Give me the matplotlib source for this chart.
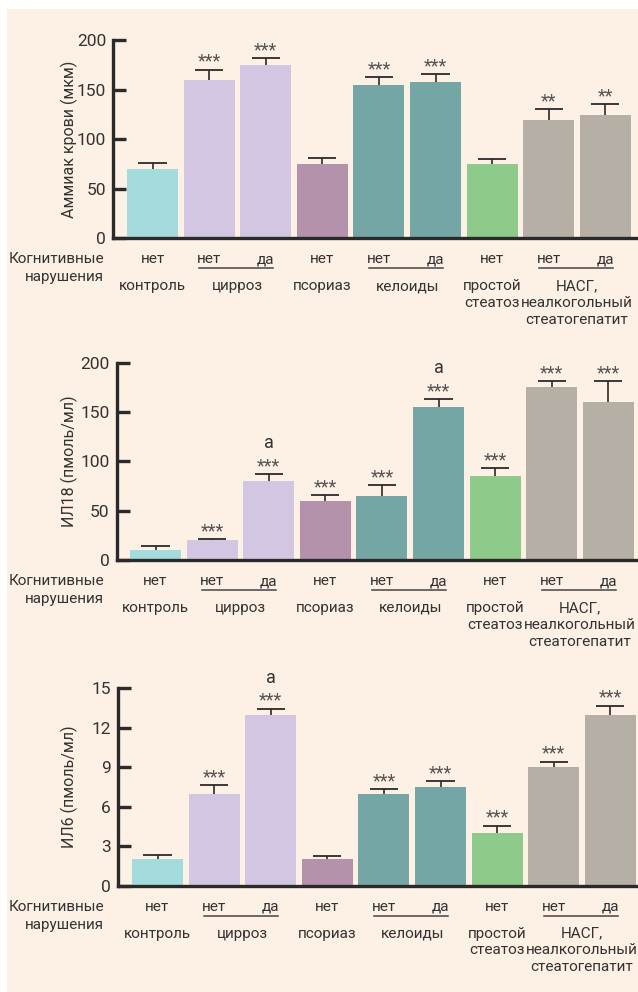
import matplotlib
matplotlib.use("Agg")
import matplotlib.pyplot as plt
from matplotlib.patches import Rectangle
from matplotlib.transforms import blended_transform_factory, ScaledTranslation

plt.rcParams['font.family'] = ['Roboto', 'DejaVu Sans']

# ---- data -------------------------------------------------------------
groups = ["контроль", "цирроз", "псориаз", "келоиды",
          "простой\nстеатоз", "НАСГ,\nнеалкогольный\nстеатогепатит"]
group_sizes = [1, 2, 1, 2, 1, 2]
group_colors = ["#a4dbdc", "#d2c6e2", "#b492ac", "#75a6a6", "#8ecb8a", "#b6afa5"]
cognitive = ["нет", "нет", "да", "нет", "нет", "да", "нет", "нет", "да"]

ammonia = [70, 160, 175, 75, 155, 158, 75, 119, 124]
ammonia_err = [6, 10, 7, 5.5, 7.5, 7.3, 5.3, 11, 11]
ammonia_sig = ["", "***", "***", "", "***", "***", "", "**", "**"]
ammonia_mark = ["", "", "", "", "", "", "", "", ""]

il18 = [10, 20, 80, 60, 65, 155, 85, 175, 160]
il18_err = [4, 1, 7, 6, 11, 8, 8, 6, 21]
il18_sig = ["", "***", "***", "***", "***", "***", "***", "***", "***"]
il18_mark = ["", "", "a", "", "", "a", "", "", ""]

il6 = [2, 7, 13, 2, 7, 7.5, 4, 9, 13]
il6_err = [0.36, 0.63, 0.46, 0.23, 0.36, 0.46, 0.56, 0.43, 0.68]
il6_sig = ["", "***", "***", "", "***", "***", "***", "***", "***"]
il6_mark = ["", "", "a", "", "", "", "", "", ""]

panels = [
    dict(values=ammonia, err=ammonia_err, sig=ammonia_sig, mark=ammonia_mark,
         ylabel="Аммиак крови (мкм)", ymax=200, yticks=[0, 50, 100, 150, 200]),
    dict(values=il18, err=il18_err, sig=il18_sig, mark=il18_mark,
         ylabel="ИЛ18 (пмоль/мл)", ymax=200, yticks=[0, 50, 100, 150, 200]),
    dict(values=il6, err=il6_err, sig=il6_sig, mark=il6_mark,
         ylabel="ИЛ6 (пмоль/мл)", ymax=15, yticks=[0, 3, 6, 9, 12, 15]),
]

# ---- layout (pixels on a 638 x 992 canvas) ----------------------------
W, H = 638, 992
# spine x, top of y range, zero line, first bar centre
frames = [(113, 40, 238, 152.5), (116.5, 362.7, 560, 155.5), (118, 688.3, 885.7, 157.5)]
step = 56.6
PT = 0.72  # points per pixel at 100 dpi
FS = 11    # label font size

TEXT = "#333333"
STAR = "#555555"
LINE = "#2a2a2a"
BG = "#fdf0e4"

fig = plt.figure(figsize=(W / 100, H / 100), dpi=100)
fig.patch.set_facecolor("white")
fig.add_artist(Rectangle((7 / W, 0), 1, (H - 9) / H, transform=fig.transFigure,
                         facecolor=BG, edgecolor="none", zorder=-10))

colors = []
for c, n in zip(group_colors, group_sizes):
    colors += [c] * n

for p, (sx, ty, zy, c0) in zip(panels, frames):
    ax = fig.add_axes([sx / W, 1 - zy / H, (W - sx) / W, (zy - ty) / H])
    ax.set_facecolor("none")
    n = len(p["values"])
    xs = list(range(n))
    ax.set_xlim((sx - c0) / step, (W - c0) / step)
    ax.set_ylim(0, p["ymax"])

    ax.bar(xs, p["values"], width=0.9, color=colors, zorder=2)
    tops = [v + e for v, e in zip(p["values"], p["err"])]
    ax.vlines(xs, p["values"], tops, color=LINE, lw=1.2, zorder=1)
    ax.hlines(tops, [x - 0.25 for x in xs], [x + 0.25 for x in xs],
              color=LINE, lw=1.3, zorder=3)

    for x, t, s, m in zip(xs, tops, p["sig"], p["mark"]):
        if s:
            ax.annotate(s, (x, t), xytext=(0, 8 * PT), textcoords="offset points",
                        ha="center", va="center", fontsize=13, color=STAR,
                        annotation_clip=False)
        if m:
            ax.annotate(m, (x, t), xytext=(0, 31 * PT), textcoords="offset points",
                        ha="center", va="center", fontsize=13, color=TEXT,
                        annotation_clip=False)

    for side in ("top", "right"):
        ax.spines[side].set_visible(False)
    for side in ("left", "bottom"):
        ax.spines[side].set_linewidth(2.4)
        ax.spines[side].set_color(LINE)
    ax.spines["left"].set_bounds(0, p["ymax"])
    ax.set_xticks([])
    ax.set_yticks(p["yticks"])
    ax.tick_params(axis="y", direction="in", length=9, width=2.4, color=LINE,
                   pad=5, labelsize=12.5, labelcolor=TEXT)
    ax.set_ylabel(p["ylabel"], fontsize=FS + 0.5, color=TEXT)
    ax.yaxis.set_label_coords(-(sx - 78) / (W - sx), 0.5)

    tr = blended_transform_factory(ax.transData, ax.transAxes)
    under = tr + ScaledTranslation(0, -30 / 100, fig.dpi_scale_trans)

    for x, lab in zip(xs, cognitive):
        ax.annotate(lab, (x, 0), xycoords=tr, xytext=(0, -21 * PT),
                    textcoords="offset points", ha="center", va="center",
                    color=TEXT, fontsize=FS, annotation_clip=False)

    start = 0
    for g, size in zip(groups, group_sizes):
        centre = start + (size - 1) / 2
        if size == 2:
            ax.plot([start - 0.17, start + 1 + 0.13], [0, 0], transform=under,
                    color="#444444", lw=1.1, clip_on=False)
        ax.annotate(g, (centre, 0), xycoords=tr, xytext=(0, -41 * PT),
                    textcoords="offset points", ha="center", va="top",
                    color=TEXT, fontsize=FS, linespacing=1.25,
                    annotation_clip=False)
        start += size

    fig.text(104 / W, 1 - (zy + 21) / H, "Когнитивные", ha="right", va="center",
             fontsize=FS, color=TEXT)
    fig.text(104 / W, 1 - (zy + 39) / H, "нарушения", ha="right", va="center",
             fontsize=FS, color=TEXT)

fig.savefig("out.png", dpi=100)
